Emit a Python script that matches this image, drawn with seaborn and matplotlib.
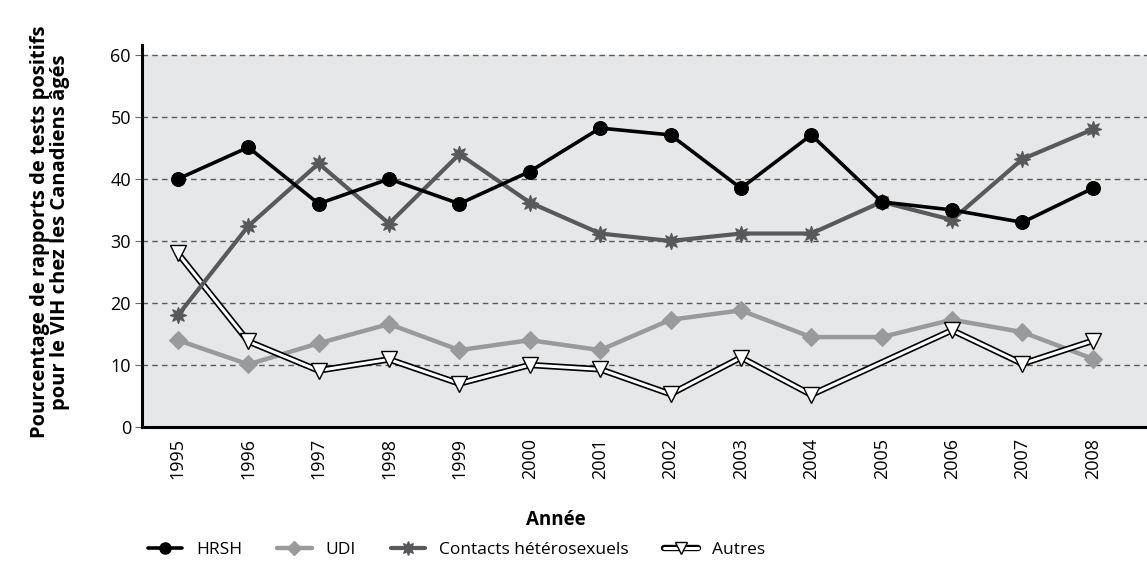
import numpy as np
import pandas as pd
import matplotlib
matplotlib.use("Agg")
import matplotlib.pyplot as plt
import matplotlib.patheffects as pe
from matplotlib.lines import Line2D
from matplotlib.legend_handler import HandlerTuple
import seaborn as sns

years = list(range(1995, 2009))
hrsh = [40.0, 45.1, 36.0, 40.0, 36.0, 41.2, 48.2, 47.1, 38.5, 47.1, 36.3, 35.0, 33.0, 38.5]
udi = [14.0, 10.1, 13.5, 16.6, 12.4, 14.0, 12.4, 17.3, 18.8, 14.5, 14.5, 17.3, 15.3, 11.0]
hetero = [18.0, 32.4, 42.5, 32.8, 44.0, 36.2, 31.2, 30.0, 31.2, 31.2, 36.3, 33.4, 43.2, 48.0]
autres = [28.0, 13.8, 9.1, 10.9, 7.0, 10.0, 9.3, 5.3, 11.2, 5.2, np.nan, 15.6, 10.2, 13.9]

labels = ["HRSH", "UDI", "Contacts hétérosexuels", "Autres"]
ylabel = "Pourcentage de rapports de tests positifs\npour le VIH chez les Canadiens âgés"
xlabel = "Année"

sns.set_style("white")
plt.rcParams['font.family'] = ['Open Sans', 'DejaVu Sans']
plt.rcParams['text.color'] = 'black'
plt.rcParams['xtick.color'] = 'black'
plt.rcParams['ytick.color'] = 'black'
plt.rcParams['axes.labelcolor'] = 'black'

fig = plt.figure(figsize=(11.47, 5.67), dpi=100)
ax = fig.add_axes([142/1147, 1-427/567, 1-142/1147, (427-45)/567])

ax.set_facecolor("white")
ax.axhspan(0, 60, color="#e6e7e8", zorder=0, lw=0)
for v in range(10, 61, 10):
    ax.axhline(v, color="#5a5a5a", lw=1.0, ls=(0, (4, 3)), zorder=1)

df = pd.DataFrame({"year": years, "HRSH": hrsh, "UDI": udi,
                   "Contacts hétérosexuels": hetero, "Autres": autres})
dfa = df.dropna(subset=["Autres"])

c_hrsh = "#000000"
c_udi = "#999a9c"
c_het = "#58595b"
stroke = [pe.Stroke(linewidth=4.6, foreground="black"), pe.Normal()]

sns.lineplot(data=df, x="year", y="UDI", ax=ax, color=c_udi, lw=3.2,
             marker="D", markersize=9, markeredgecolor=c_udi, zorder=3)
sns.lineplot(data=dfa, x="year", y="Autres", ax=ax, color="white", lw=2.2,
             zorder=4, path_effects=stroke)
sns.lineplot(data=dfa, x="year", y="Autres", ax=ax, color="white", ls="",
             marker="v", markersize=12, markeredgecolor="black",
             markeredgewidth=1.0, zorder=4.5)
sns.lineplot(data=df, x="year", y="Contacts hétérosexuels", ax=ax, color=c_het, lw=3.0,
             marker=(8, 1, 0), markersize=12, markeredgecolor=c_het, zorder=5)
sns.lineplot(data=df, x="year", y="HRSH", ax=ax, color=c_hrsh, lw=2.6,
             marker="o", markersize=10, markeredgecolor=c_hrsh, zorder=6)

ax.set_xlim(1994.49, 2008.77)
ax.set_ylim(0, 61.6)
ax.set_yticks(range(0, 61, 10))
ax.set_xticks(years)
ax.set_xticklabels([str(y) for y in years], rotation=90, fontsize=13)
ax.tick_params(axis="y", labelsize=13, length=5, width=0.8, color="#666666",
               labelcolor="black", left=True, pad=3)
ax.tick_params(axis="x", length=0, pad=8, labelcolor="black")

for s in ["top", "right"]:
    ax.spines[s].set_visible(False)
for s in ["left", "bottom"]:
    ax.spines[s].set_color("black")
    ax.spines[s].set_linewidth(2.2)

ax.set_xlabel(xlabel, fontsize=13.5, fontweight="bold", color="black")
ax.xaxis.set_label_coords((556-142)/1005, -(520-427)/382)
ax.xaxis.label.set_va("center")
ax.set_ylabel("")
fig.text(50/1147, 1-232/567, ylabel, rotation=90, ha="center", va="center",
         fontsize=14.5, fontweight="bold", linespacing=1.0, color="black")

h_autres = (Line2D([], [], color="white", lw=2.2, path_effects=stroke),
            Line2D([], [], color="white", ls="", marker="v", markersize=9,
                   markeredgecolor="black", markeredgewidth=1.0))
handles = [
    Line2D([], [], color=c_hrsh, lw=2.6, marker="o", markersize=8),
    Line2D([], [], color=c_udi, lw=3.2, marker="D", markersize=7),
    Line2D([], [], color=c_het, lw=3.0, marker=(8, 1, 0), markersize=10),
    h_autres,
]
fig.legend(handles, labels, loc="center left", bbox_to_anchor=(132/1147, 1-550/567),
           ncol=4, frameon=False, fontsize=12.5, handlelength=2.0, columnspacing=2.0,
           handletextpad=0.8, handler_map={tuple: HandlerTuple(ndivide=1)},
           labelcolor="black")

fig.savefig("out.png", dpi=100)
